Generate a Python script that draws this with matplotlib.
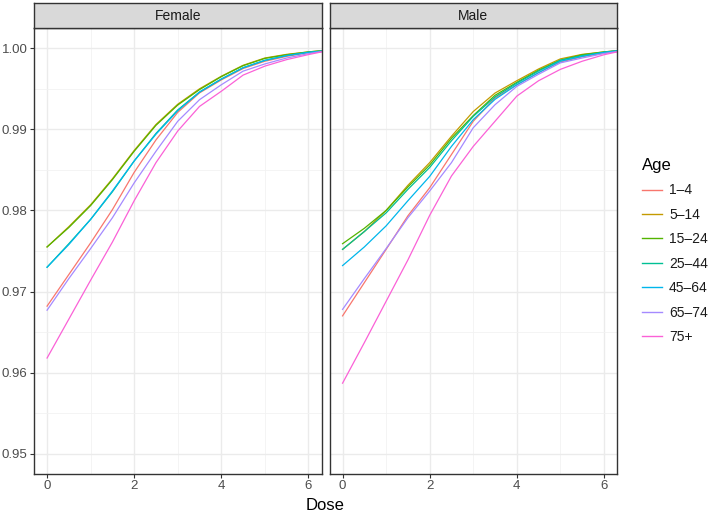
import numpy as np
import matplotlib
matplotlib.use('Agg')
import matplotlib.pyplot as plt
from matplotlib.lines import Line2D

dose = [0, 0.5, 1, 1.5, 2, 2.5, 3, 3.5, 4, 4.5, 5, 5.5, 6, 6.3]
ages = ['1–4', '5–14', '15–24', '25–44', '45–64', '65–74', '75+']
colors = ['#F8766D', '#C49A00', '#53B400', '#00C094', '#00B6EB', '#A58AFF', '#FB61D7']

female = {
    '1–4':   [0.9682, 0.9721, 0.9760, 0.9801, 0.9847, 0.9887, 0.9921, 0.9945, 0.9961, 0.9975, 0.9984, 0.9990, 0.99945, 0.9996],
    '5–14':  [0.9755, 0.9780, 0.9807, 0.9839, 0.9874, 0.9906, 0.9931, 0.9950, 0.99655, 0.9979, 0.9988, 0.99925, 0.99955, 0.9997],
    '15–24': [0.9755, 0.9779, 0.9806, 0.9838, 0.9873, 0.9905, 0.9930, 0.9949, 0.9965, 0.99785, 0.99875, 0.9992, 0.99955, 0.9997],
    '25–44': [0.9730, 0.9759, 0.9789, 0.9823, 0.9861, 0.9895, 0.9924, 0.9946, 0.9962, 0.9976, 0.99852, 0.9991, 0.9995, 0.99965],
    '45–64': [0.9730, 0.9758, 0.9789, 0.9824, 0.9861, 0.9894, 0.9923, 0.9946, 0.9962, 0.9976, 0.9985, 0.9991, 0.9995, 0.99965],
    '65–74': [0.9677, 0.9716, 0.9753, 0.9791, 0.9834, 0.9873, 0.9910, 0.99366, 0.9955, 0.99718, 0.99807, 0.9988, 0.99934, 0.9996],
    '75+':   [0.9618, 0.9666, 0.9714, 0.9761, 0.9812, 0.9859, 0.9898, 0.99283, 0.9947, 0.99669, 0.9978, 0.9986, 0.99922, 0.99955],
}

male = {
    '1–4':   [0.9670, 0.9711, 0.9752, 0.97934, 0.9828, 0.9869, 0.9910, 0.99386, 0.9955, 0.9970, 0.9983, 0.99895, 0.9994, 0.9996],
    '5–14':  [0.9752, 0.9774, 0.9800, 0.9831, 0.9859, 0.98915, 0.9922, 0.99448, 0.9960, 0.99745, 0.99869, 0.99925, 0.99955, 0.9997],
    '15–24': [0.9759, 0.9778, 0.9800, 0.9829, 0.9856, 0.9889, 0.9917, 0.9942, 0.9958, 0.9973, 0.99853, 0.9992, 0.99955, 0.9997],
    '25–44': [0.9752, 0.9774, 0.9797, 0.9826, 0.9853, 0.9886, 0.9916, 0.9940, 0.9957, 0.9972, 0.99853, 0.9991, 0.9995, 0.99968],
    '45–64': [0.9732, 0.9755, 0.9781, 0.9812, 0.9842, 0.9879, 0.9912, 0.9937, 0.9955, 0.9970, 0.9984, 0.9990, 0.9995, 0.99968],
    '65–74': [0.9678, 0.9716, 0.9753, 0.9791, 0.9824, 0.9859, 0.9902, 0.99304, 0.9953, 0.9968, 0.9982, 0.9988, 0.99935, 0.9996],
    '75+':   [0.9587, 0.9637, 0.9688, 0.9739, 0.9794, 0.98425, 0.9879, 0.9910, 0.9941, 0.9960, 0.9974, 0.9984, 0.9992, 0.99955],
}

W, H = 709, 520
fig = plt.figure(figsize=(W / 100, H / 100), dpi=100)
plt.rcParams['font.family'] = ['Liberation Sans', 'DejaVu Sans']

panels = [('Female', female, 34), ('Male', male, 329.5)]
pw = 287.5
for i, (name, data, x0) in enumerate(panels):
    ax = fig.add_axes([x0 / W, 1 - 474 / H, pw / W, 446 / H])
    ax.set_xlim(-0.3, 6.3)
    ax.set_ylim(0.9475, 1.0025)
    ax.set_xticks([0, 2, 4, 6])
    ax.set_xticks([1, 3, 5], minor=True)
    ax.set_yticks([0.95, 0.96, 0.97, 0.98, 0.99, 1.00])
    ax.set_yticks([0.955, 0.965, 0.975, 0.985, 0.995], minor=True)
    ax.grid(True, which='major', color='#EBEBEB', linewidth=1.0)
    ax.grid(True, which='minor', color='#F2F2F2', linewidth=0.6)
    ax.set_axisbelow(True)
    for s in ax.spines.values():
        s.set_color('#333333')
        s.set_linewidth(1.0)
    ax.tick_params(which='major', length=3, color='#333333', labelsize=9.5, labelcolor='#4D4D4D',
                   width=0.8, pad=1.6)
    ax.tick_params(which='minor', length=0)
    if i == 0:
        ax.set_yticklabels(['0.95', '0.96', '0.97', '0.98', '0.99', '1.00'])
    else:
        ax.tick_params(axis='y', which='major', length=0, labelleft=False)
    for age, c in zip(ages, colors):
        ax.plot(dose, data[age], color=c, linewidth=0.9)

    sax = fig.add_axes([x0 / W, 1 - 28 / H, pw / W, 25 / H])
    sax.set_facecolor('#D9D9D9')
    sax.set_xticks([])
    sax.set_yticks([])
    for s in sax.spines.values():
        s.set_color('#333333')
        s.set_linewidth(1.0)
    sax.text(0.5, 0.5, name, ha='center', va='center', fontsize=10, color='#1A1A1A',
             transform=sax.transAxes)

fig.text(325 / W, 1 - 506 / H, 'Dose', ha='center', va='center', fontsize=12, color='black')

handles = [Line2D([0], [0], color=c, linewidth=1.0) for c in colors]
leg = fig.legend(handles, ages, title='Age', loc='center left', bbox_to_anchor=(642 / W, 1 - 251 / H),
                 frameon=False, fontsize=10, title_fontsize=12, handlelength=1.45,
                 labelspacing=0.75, alignment='left', handletextpad=0.5, borderpad=0,
                 borderaxespad=0)
for t in leg.get_texts():
    t.set_color('#1A1A1A')

fig.savefig('out.png', dpi=100)
